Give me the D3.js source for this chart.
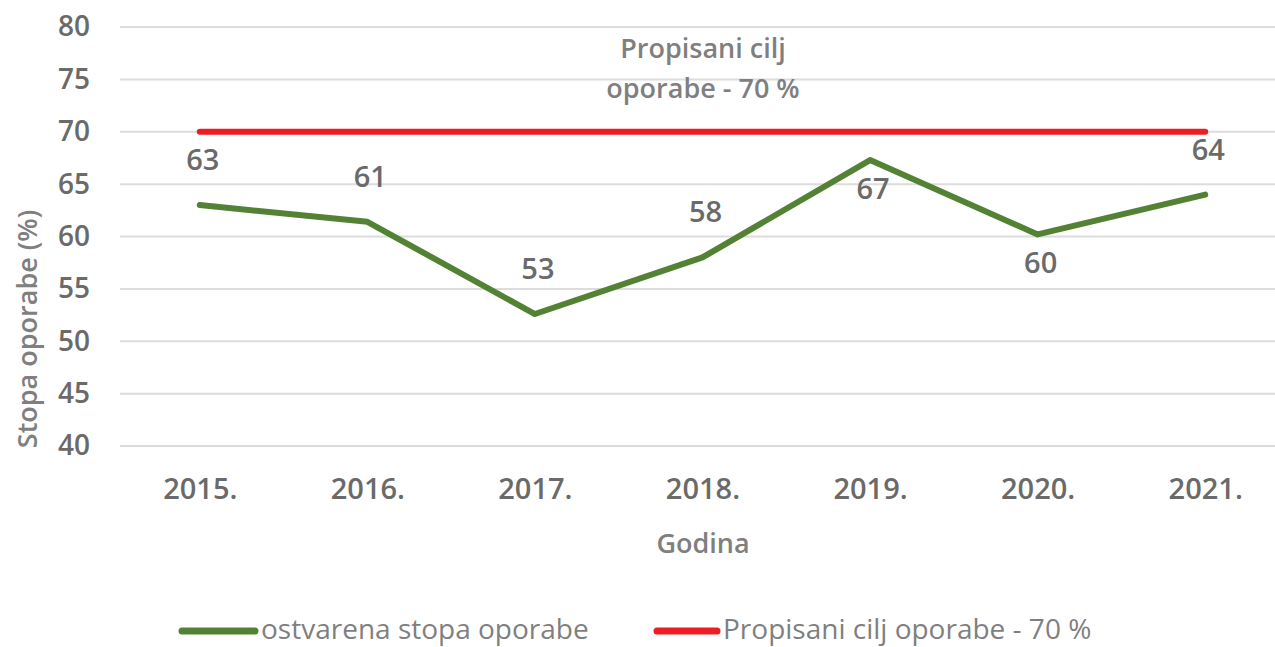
<!DOCTYPE html>
<html>
<head>
<meta charset="utf-8">
<script src="https://cdn.jsdelivr.net/npm/d3@7"></script>
<style>
  html, body { margin: 0; padding: 0; background: #fff; }
  svg { display: block; font-family: "Open Sans", "Noto Sans", sans-serif; }
</style>
</head>
<body>
<svg id="chart" width="1275" height="647"></svg>
<script>
// Recovery rate by year (%)
const years = ["2015.", "2016.", "2017.", "2018.", "2019.", "2020.", "2021."];
const recoveryRate = [63.0, 61.4, 52.6, 58.0, 67.3, 60.2, 64.0];
const targetRate = [70, 70, 70, 70, 70, 70, 70];
const yTicks = [40, 45, 50, 55, 60, 65, 70, 75, 80];
const seriesNames = ["ostvarena stopa oporabe", "Propisani cilj oporabe - 70 %"];
const targetNote = ["Propisani cilj", "oporabe - 70 %"];

const svg = d3.select("#chart");
const green = "#548235", red = "#ee1d23";
const tickColor = "#6a6a6a", titleColor = "#7f7f7f";

const x = d3.scalePoint().domain(years).range([116, 1289]).padding(0.5);
const y = d3.scaleLinear().domain([40, 80]).range([446, 27]);

// horizontal gridlines
svg.append("g")
  .selectAll("line")
  .data(yTicks)
  .join("line")
  .attr("x1", 120).attr("x2", 1289)
  .attr("y1", d => y(d)).attr("y2", d => y(d))
  .attr("stroke", "#dcdcdc").attr("stroke-width", 2);

// y axis labels
const yAxis = svg.append("g")
  .attr("transform", "translate(90,0)")
  .call(d3.axisLeft(y).tickValues(yTicks).tickSize(0).tickPadding(0));
yAxis.select(".domain").remove();
yAxis.selectAll("text")
  .attr("fill", tickColor).attr("font-size", 28).attr("font-weight", 600)
  .attr("font-family", "'Open Sans', sans-serif");

// x axis labels
const xAxis = svg.append("g")
  .attr("transform", "translate(0,478)")
  .call(d3.axisBottom(x).tickSize(0).tickPadding(0));
xAxis.select(".domain").remove();
xAxis.selectAll("text")
  .attr("fill", tickColor).attr("font-size", 29).attr("font-weight", 600)
  .attr("font-family", "'Open Sans', sans-serif");

// axis titles
svg.append("text")
  .attr("transform", `translate(37,${329}) rotate(-90)`)
  .attr("text-anchor", "middle")
  .attr("fill", titleColor).attr("font-size", 27).attr("font-weight", 600)
  .text("Stopa oporabe (%)");

svg.append("text")
  .attr("x", 703).attr("y", 553)
  .attr("text-anchor", "middle")
  .attr("fill", titleColor).attr("font-size", 27).attr("font-weight", 600)
  .text("Godina");

// target line
const line = d3.line().x((d, i) => x(years[i])).y(d => y(d));
svg.append("path")
  .datum(targetRate)
  .attr("d", line)
  .attr("fill", "none").attr("stroke", red)
  .attr("stroke-width", 6).attr("stroke-linecap", "round");

// achieved recovery rate
svg.append("path")
  .datum(recoveryRate)
  .attr("d", line)
  .attr("fill", "none").attr("stroke", green)
  .attr("stroke-width", 6).attr("stroke-linecap", "round")
  .attr("stroke-linejoin", "round");

// value labels: the 2019 and 2020 labels sit under the line
const below = new Set(["2019.", "2020."]);
svg.append("g")
  .selectAll("text")
  .data(recoveryRate)
  .join("text")
  .attr("x", (d, i) => x(years[i]) + 3)
  .attr("y", (d, i) => below.has(years[i]) ? y(d) + 39 : y(d) - 35)
  .attr("text-anchor", "middle")
  .attr("fill", tickColor).attr("font-size", 29).attr("font-weight", 600)
  .text(d => d3.format(".0f")(d));

// note above the target line
svg.append("g")
  .selectAll("text")
  .data(targetNote)
  .join("text")
  .attr("x", 703).attr("y", (d, i) => 58 + i * 40)
  .attr("text-anchor", "middle")
  .attr("fill", titleColor).attr("font-size", 27).attr("font-weight", 600)
  .text(d => d);

// legend
const legendX = [180, 655];
const legendColors = [green, red];
const lg = svg.append("g")
  .selectAll("g")
  .data(seriesNames)
  .join("g")
  .attr("transform", (d, i) => `translate(${legendX[i]},631)`);
lg.append("line")
  .attr("x1", 2).attr("x2", (d, i) => i === 0 ? 75 : 62)
  .attr("stroke", (d, i) => legendColors[i])
  .attr("stroke-width", 7).attr("stroke-linecap", "round");
lg.append("text")
  .attr("x", (d, i) => i === 0 ? 81 : 68).attr("y", 8)
  .attr("fill", titleColor).attr("font-size", 28)
  .text(d => d);
</script>
</body>
</html>
